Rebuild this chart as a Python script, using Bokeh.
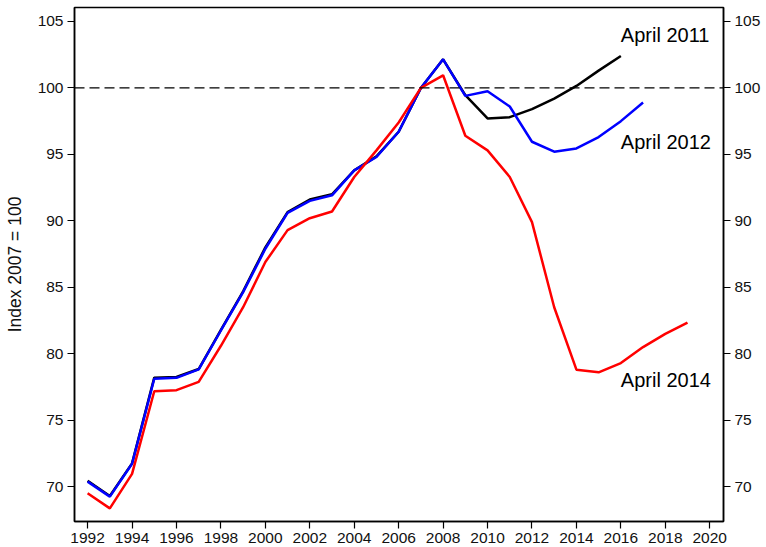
from bokeh.plotting import figure
from bokeh.models import Range1d, LinearAxis, FixedTicker, Span, ColumnDataSource
from bokeh.embed import file_html
from bokeh.resources import INLINE
from bokeh.core.properties import value

# ---- data ----
years_2011 = list(range(1992, 2017))
vals_2011 = [70.45, 69.3, 71.75, 78.2, 78.25, 78.85, 81.8, 84.7, 88.0, 90.65, 91.6, 92.0,
             93.8, 94.85, 96.7, 100.0, 102.15, 99.45, 97.7, 97.8, 98.4, 99.2, 100.15, 101.3, 102.4]

years_2012 = list(range(1992, 2018))
vals_2012 = [70.38, 69.25, 71.72, 78.12, 78.19, 78.82, 81.75, 84.64, 87.9, 90.6, 91.5, 91.92,
             93.8, 94.8, 96.7, 100.0, 102.15, 99.4, 99.75, 98.6, 95.95, 95.2, 95.45, 96.3, 97.5, 98.9]

years_2014 = list(range(1992, 2020))
vals_2014 = [69.5, 68.37, 70.96, 77.18, 77.26, 77.89, 80.6, 83.5, 86.9, 89.3, 90.2, 90.7,
             93.3, 95.3, 97.4, 100.0, 100.95, 96.4, 95.3, 93.3, 89.9, 83.5, 78.8, 78.6, 79.3,
             80.5, 81.5, 82.35]

label_texts = ["April 2011", "April 2012", "April 2014"]
label_x = [2016, 2016, 2016]
label_y = [104.0, 95.95, 78.0]

x_ticks = list(range(1992, 2021, 2))
y_ticks = list(range(70, 106, 5))
reference_level = 100

FONT = "Liberation Sans"

p = figure(width=766, height=547, output_backend="svg", toolbar_location=None,
           x_range=Range1d(1991.41, 2020.62), y_range=Range1d(67.38, 106.05),
           min_border_left=74, min_border_right=43, min_border_top=7, min_border_bottom=26)

p.background_fill_color = "white"
p.border_fill_color = "white"
p.outline_line_color = "black"
p.outline_line_width = 1.5
p.xgrid.visible = False
p.ygrid.visible = False

p.add_layout(Span(location=reference_level, dimension="width", line_color="black",
                  line_width=1.2, line_dash="10 5"))

p.line(years_2011, vals_2011, line_color="black", line_width=2.5)
p.line(years_2012, vals_2012, line_color="#0000FF", line_width=2.5)
p.line(years_2014, vals_2014, line_color="#FF0000", line_width=2.5)

src = ColumnDataSource(dict(x=label_x, y=label_y, t=label_texts))
p.text(x="x", y="y", text="t", source=src, text_font=value(FONT), text_font_size="20px",
       text_color="black", text_align="left", text_baseline="alphabetic")

right = LinearAxis()
p.add_layout(right, "right")

for ax in p.xaxis:
    ax.ticker = FixedTicker(ticks=x_ticks)
for ax in p.yaxis:
    ax.ticker = FixedTicker(ticks=y_ticks)

for ax in p.axis:
    ax.major_tick_out = 7
    ax.major_tick_in = 0
    ax.minor_tick_line_color = None
    ax.axis_line_color = "black"
    ax.axis_line_width = 1.5
    ax.major_tick_line_color = "black"
    ax.major_tick_line_width = 1.2
    ax.major_label_text_font = FONT
    ax.major_label_text_font_size = "15.5px"
    ax.major_label_text_color = "#111111"
    ax.major_label_standoff = 4

p.yaxis[0].axis_label = "Index 2007 = 100"
p.yaxis[0].axis_label_text_font = FONT
p.yaxis[0].axis_label_text_font_size = "17.5px"
p.yaxis[0].axis_label_text_font_style = "normal"
p.yaxis[0].axis_label_text_color = "#111111"
p.yaxis[0].axis_label_standoff = 10

open("out.html", "w").write(file_html(p, INLINE))
